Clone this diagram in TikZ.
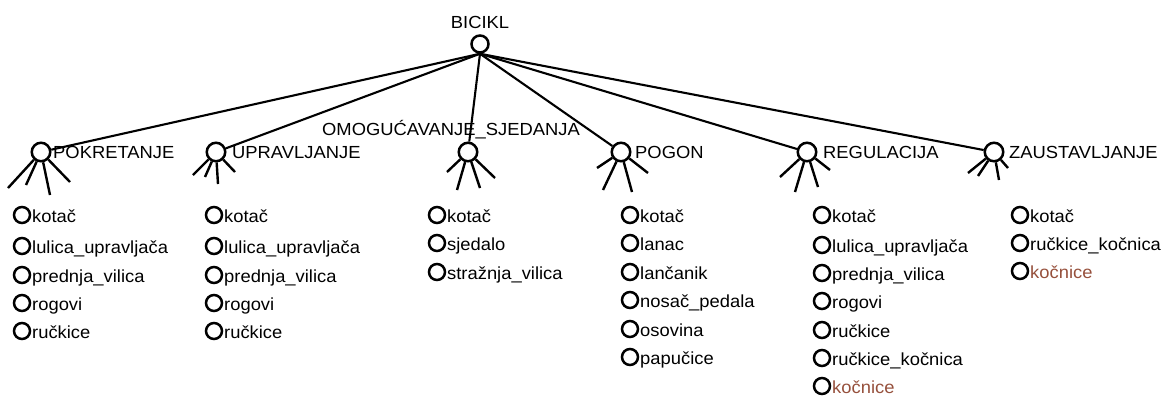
\documentclass[tikz,border=0pt]{standalone}
\usepackage{fontspec}
\setmainfont{Liberation Sans}[FakeStretch=1.05]
\usetikzlibrary{calc}
\definecolor{brk}{RGB}{150,80,60}
\tikzset{
  x=1pt, y=-1pt,
  rootc/.style={circle, draw, line width=2.5pt, minimum size=17pt, inner sep=0pt},
  childc/.style={circle, draw, line width=2.5pt, minimum size=18.5pt, inner sep=0pt},
  leafc/.style={circle, draw, line width=2.5pt, minimum size=16pt, inner sep=0pt},
  lab/.style={anchor=base west, inner sep=0pt, font=\fontsize{17.5}{20}\selectfont},
  conn/.style={line width=2.1pt},
  leg/.style={line width=2.4pt},
}
\newcommand\legs[2]{%
  \foreach \dx/\dy [count=\i] in {#2} {
    \coordinate (#1-l\i) at ($(#1)+(\dx,\dy)$);
    \draw[leg] (#1) -- (#1-l\i);
  }}
\newcommand\leaf[5][black]{%
  \node[leafc] (#2) at (#3,#4) {};
  \node[lab, text=#1] (#2-t) at ($(#2)+(10,7)$) {#5};}
\begin{document}
\begin{tikzpicture}
\useasboundingbox (0,0) rectangle (1171,397);
% root
\node[rootc] (root) at (480,44) {};
\node[lab, anchor=base] (root-t) at (480,28) {BICIKL};
% children
\node[childc] (pok) at (41,152) {};
\node[lab] (pok-t) at (53,158) {POKRETANJE};
\node[childc] (upr) at (216,152) {};
\node[lab] (upr-t) at (232,158) {UPRAVLJANJE};
\node[childc] (omo) at (468,152) {};
\node[lab] (omo-t) at (322,135) {OMOGUĆAVANJE\_SJEDANJA};
\node[childc] (pog) at (621,152) {};
\node[lab] (pog-t) at (635,158) {POGON};
\node[childc] (reg) at (807,152) {};
\node[lab] (reg-t) at (823,158) {REGULACIJA};
\node[childc] (zau) at (994,152) {};
\node[lab] (zau-t) at (1009,158) {ZAUSTAVLJANJE};
% connectors
\foreach \c in {pok,upr,omo,pog,reg,zau} \draw[conn] (root.south) -- (\c);
% legs
\legs{pok}{-33/36,-15/33,9/43,29/30}
\legs{upr}{-23/23,-11/25,2/32,19/20}
\legs{omo}{-21/20,-11/38,12/36,27/26}
\legs{pog}{-24/16,-18/38,11/40,27/21}
\legs{reg}{-27/25,-12/40,11/35,23/18}
\legs{zau}{-26/21,-16/24,5/28,14/16}
% leaves
\leaf{a1}{22}{215}{kotač}
\leaf{a2}{22}{246}{lulica\_upravljača}
\leaf{a3}{22}{275}{prednja\_vilica}
\leaf{a4}{22}{303}{rogovi}
\leaf{a5}{22}{331}{ručkice}
\leaf{b1}{214}{215}{kotač}
\leaf{b2}{214}{246}{lulica\_upravljača}
\leaf{b3}{214}{275}{prednja\_vilica}
\leaf{b4}{214}{303}{rogovi}
\leaf{b5}{214}{331}{ručkice}
\leaf{c1}{437}{215}{kotač}
\leaf{c2}{437}{243}{sjedalo}
\leaf{c3}{437}{272}{stražnja\_vilica}
\leaf{d1}{630}{215}{kotač}
\leaf{d2}{630}{243}{lanac}
\leaf{d3}{630}{272}{lančanik}
\leaf{d4}{630}{300}{nosač\_pedala}
\leaf{d5}{630}{329}{osovina}
\leaf{d6}{630}{357}{papučice}
\leaf{e1}{822}{215}{kotač}
\leaf{e2}{822}{245}{lulica\_upravljača}
\leaf{e3}{822}{273}{prednja\_vilica}
\leaf{e4}{822}{301}{rogovi}
\leaf{e5}{822}{330}{ručkice}
\leaf{e6}{822}{358}{ručkice\_kočnica}
\leaf[brk]{e7}{822}{386}{kočnice}
\leaf{f1}{1020}{215}{kotač}
\leaf{f2}{1020}{243}{ručkice\_kočnica}
\leaf[brk]{f3}{1020}{271}{kočnice}
\end{tikzpicture}
\end{document}
